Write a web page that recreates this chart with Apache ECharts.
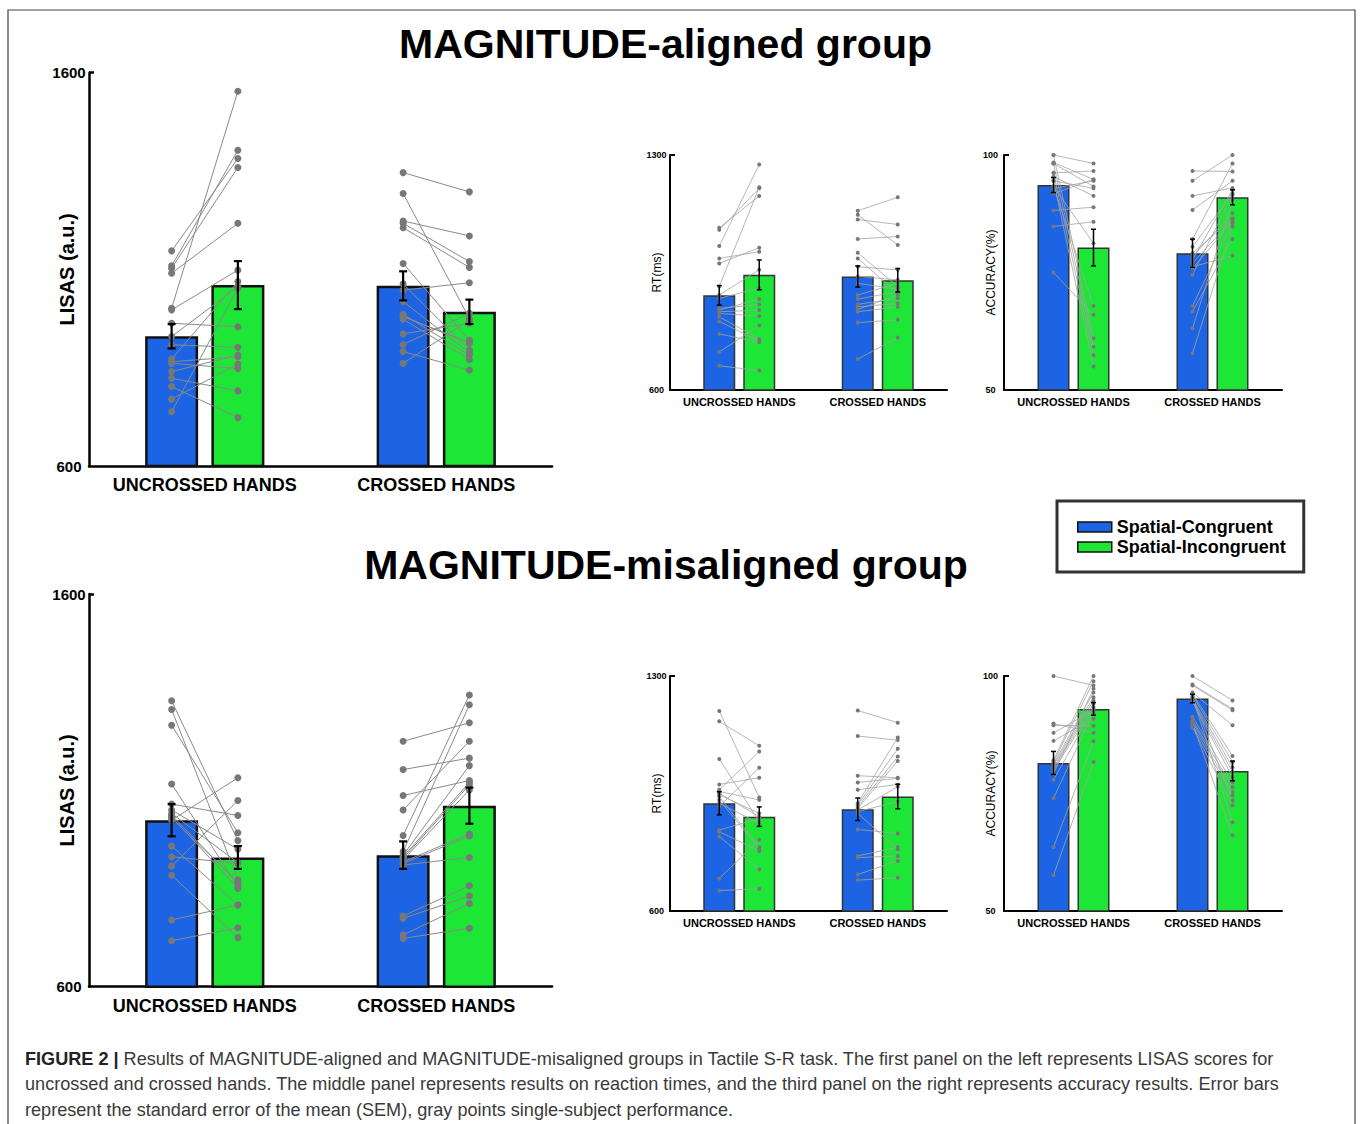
<!DOCTYPE html>
<html>
<head>
<meta charset="utf-8">
<title>Figure 2</title>
<script src="https://cdn.jsdelivr.net/npm/echarts@6.0.0/dist/echarts.min.js"></script>
<style>
  html, body { margin: 0; padding: 0; background: #fff; }
  #chart { width: 1360px; height: 1124px; }
</style>
</head>
<body>
<div id="chart"></div>
<script>
// categories / legend names
var categories = ["UNCROSSED HANDS", "CROSSED HANDS"];
var seriesNames = ["Spatial-Congruent", "Spatial-Incongruent"];

// y axis end ticks
var lisasTicks = [600, 1600];
var rtTicks = [600, 1300];
var accTicks = [50, 100];

// means [congruent, incongruent] x [uncrossed, crossed]
var lisasAlignedMean = [[930, 1058], [1060, 992]];
var lisasAlignedSem = [[31, 37], [61, 31]];
var rtAlignedMean = [[882, 938], [943, 927]];
var rtAlignedSem = [[29, 31.5], [44.5, 35]];
var accAlignedMean = [[93.6, 79.1], [80.3, 91.0]];
var accAlignedSem = [[1.6, 3.0], [3.9, 1.6]];

var lisasMisMean = [[1024, 935], [929, 1061]];
var lisasMisSem = [[41, 35], [29, 46]];
var rtMisMean = [[921, 903], [881, 941]];
var rtMisSem = [[34.5, 33.5], [29, 36.5]];
var accMisMean = [[81.5, 95.2], [93.0, 79.8]];
var accMisSem = [[2.45, 0.9], [1.35, 2.1]];

// single subjects: [congruent, incongruent]
var lisasAlignedUncrossed = [[1147, 1382], [1109, 1403], [1103, 1359], [1090, 1217], [1001, 1553], [997, 1098], [963, 954], [929, 1056], [908, 902], [872, 1069], [865, 878], [861, 848], [840, 882], [823, 791], [802, 723], [770, 859], [738, 1052]];
var lisasAlignedCrossed = [[1346, 1297], [1293, 975], [1223, 1185], [1217, 1120], [1206, 1105], [1115, 920], [1063, 895], [1047, 1066], [1018, 888], [986, 882], [980, 914], [973, 871], [936, 963], [909, 988], [891, 844], [861, 971], [980, 912]];
var rtAlignedUncrossed = [[1083, 1178], [1077, 1201], [1029, 1272], [992, 1012], [977, 1024], [908, 1204], [883, 958], [873, 903], [843, 855], [838, 871], [833, 838], [828, 820], [818, 752], [804, 746], [767, 742], [713, 792], [672, 658]];
var rtAlignedCrossed = [[1134, 1174], [1122, 1032], [1108, 1093], [1050, 1057], [1009, 908], [992, 888], [967, 958], [938, 928], [918, 900], [883, 918], [871, 893], [855, 873], [848, 858], [840, 883], [833, 848], [801, 809], [692, 756]];
var accAlignedUncrossed = [[100, 98.2], [100, 61.0], [98.4, 94.8], [98.2, 93.3], [98.2, 59.2], [96.2, 96.6], [96.2, 57.4], [95.4, 91.3], [94.5, 55.0], [94.5, 92.9], [93.3, 67.9], [93.3, 81.2], [92.9, 94.5], [91.8, 94.8], [88.2, 88.9], [84.8, 85.8], [75.0, 66.0]];
var accAlignedCrossed = [[96.6, 96.5], [94.5, 100], [91.3, 93.0], [88.3, 94.5], [82.1, 98.2], [80.5, 91.8], [79.1, 86.5], [78.4, 87.6], [77.7, 92.6], [77.0, 86.2], [76.2, 78.6], [75.9, 85.8], [74.5, 91.5], [67.9, 85.5], [66.7, 82.1], [63.1, 90.4], [57.8, 84.8]];

var lisasMisUncrossed = [[1328, 972], [1306, 872], [1266, 992], [1116, 855], [1065, 1036], [1050, 950], [1041, 916], [1037, 863], [1033, 850], [1029, 867], [1024, 1132], [958, 808], [931, 914], [907, 1074], [884, 725], [770, 808], [717, 750]];
var lisasMisCrossed = [[1225, 1272], [1153, 1182], [1087, 1125], [1050, 1225], [985, 1343], [944, 1318], [935, 1163], [931, 1120], [927, 1114], [923, 1101], [918, 989], [914, 984], [910, 929], [780, 857], [774, 831], [732, 812], [723, 749]];
var rtMisUncrossed = [[1196, 938], [1165, 1092], [1053, 866], [977, 997], [961, 1075], [956, 931], [951, 881], [946, 891], [941, 790], [931, 785], [921, 861], [911, 1027], [841, 876], [836, 779], [822, 724], [697, 812], [661, 666]];
var rtMisCrossed = [[1197, 1161], [1121, 1109], [1003, 997], [983, 995], [961, 977], [921, 1117], [916, 1083], [911, 1060], [906, 1047], [901, 970], [896, 926], [891, 784], [843, 831], [764, 790], [759, 764], [709, 749], [692, 699]];
var accMisUncrossed = [[100, 98.0], [89.9, 87.9], [89.5, 89.4], [87.9, 92.7], [86.2, 90.9], [82.1, 100], [81.7, 98.9], [81.3, 96.5], [81.0, 95.5], [80.6, 94.8], [80.3, 94.1], [79.9, 93.4], [79.2, 97.3], [77.9, 93.0], [74.0, 92.3], [63.6, 86.1], [57.6, 81.7]];
var accMisCrossed = [[100, 94.8], [98.2, 93.0], [98.0, 92.7], [96.5, 89.5], [96.2, 83.0], [95.9, 81.7], [95.5, 73.5], [95.2, 80.6], [94.8, 79.6], [94.5, 78.5], [91.3, 77.4], [90.6, 76.4], [90.2, 75.3], [89.9, 66.1], [89.5, 74.6], [89.1, 72.5], [95.5, 68.9]];

var FONT = '"Liberation Sans", Arial, Helvetica, sans-serif';
var BLUE = "#1c64e4";
var GREEN = "#1de636";

var bigStyle = {
  barWidth: 53, barBorder: 2.5, barBorderColor: "#111", axisWidth: 2.5,
  tickFont: 15, tickMargin: 20, catFont: 18, catMargin: 10,
  nameFont: 20, nameWeight: "bold", nameGap: 12,
  dot: 3.5, line: 1, lineColor: "#8a8a8a", err: 2.2, cap: 4
};
var smallStyle = {
  barWidth: 32, barBorder: 1.5, barBorderColor: "#333", axisWidth: 2,
  tickFont: 9, tickMargin: 13.5, catFont: 11, catMargin: 6,
  nameFont: 12, nameWeight: "normal", nameGap: 7,
  dot: 2, line: 0.8, lineColor: "#a3a3a3", err: 1.5, cap: 2.5
};

var panels = [
  { mean: lisasAlignedMean, sem: lisasAlignedSem, subj: [lisasAlignedUncrossed, lisasAlignedCrossed], ticks: lisasTicks, name: "LISAS (a.u.)", st: bigStyle, grid: { left: 89, top: 72.7, width: 463, height: 393.3 } },
  { mean: rtAlignedMean, sem: rtAlignedSem, subj: [rtAlignedUncrossed, rtAlignedCrossed], ticks: rtTicks, name: "RT(ms)", st: smallStyle, grid: { left: 670, top: 155, width: 277, height: 235 } },
  { mean: accAlignedMean, sem: accAlignedSem, subj: [accAlignedUncrossed, accAlignedCrossed], ticks: accTicks, name: "ACCURACY(%)", st: smallStyle, grid: { left: 1004, top: 155, width: 278, height: 235 } },
  { mean: lisasMisMean, sem: lisasMisSem, subj: [lisasMisUncrossed, lisasMisCrossed], ticks: lisasTicks, name: "LISAS (a.u.)", st: bigStyle, grid: { left: 89, top: 594, width: 463, height: 392.7 } },
  { mean: rtMisMean, sem: rtMisSem, subj: [rtMisUncrossed, rtMisCrossed], ticks: rtTicks, name: "RT(ms)", st: smallStyle, grid: { left: 670, top: 676, width: 277, height: 235 } },
  { mean: accMisMean, sem: accMisSem, subj: [accMisUncrossed, accMisCrossed], ticks: accTicks, name: "ACCURACY(%)", st: smallStyle, grid: { left: 1004, top: 676, width: 278, height: 235 } }
];

// error bars: data item = [category index, mean, sem]
function errorBarItem(offset, st) {
  return function (params, api) {
    var c = api.value(0);
    var m = api.value(1);
    var s = api.value(2);
    var hi = api.coord([c, m + s]);
    var lo = api.coord([c, m - s]);
    var x = hi[0] + offset;
    var ls = { stroke: "#000", lineWidth: st.err };
    return {
      type: "group",
      children: [
        { type: "line", shape: { x1: x, y1: hi[1], x2: x, y2: lo[1] }, style: ls },
        { type: "line", shape: { x1: x - st.cap, y1: hi[1], x2: x + st.cap, y2: hi[1] }, style: ls },
        { type: "line", shape: { x1: x - st.cap, y1: lo[1], x2: x + st.cap, y2: lo[1] }, style: ls }
      ]
    };
  };
}

// single-subject points: data item = [category index, congruent, incongruent]
function subjectItem(offset, st) {
  return function (params, api) {
    var c = api.value(0);
    var a = api.coord([c, api.value(1)]);
    var b = api.coord([c, api.value(2)]);
    var x1 = a[0] - offset;
    var x2 = b[0] + offset;
    return {
      type: "group",
      children: [
        { type: "line", shape: { x1: x1, y1: a[1], x2: x2, y2: b[1] }, style: { stroke: st.lineColor, lineWidth: st.line } },
        { type: "circle", shape: { cx: x1, cy: a[1], r: st.dot }, style: { fill: "#777" } },
        { type: "circle", shape: { cx: x2, cy: b[1], r: st.dot }, style: { fill: "#777" } }
      ]
    };
  };
}

var grids = [];
var xAxes = [];
var yAxes = [];
var series = [];

panels.forEach(function (p, i) {
  var st = p.st;
  var offset = (st.barWidth * 1.25) / 2;
  grids.push(p.grid);
  xAxes.push({
    type: "category",
    gridIndex: i,
    data: categories,
    axisLine: { onZero: false, lineStyle: { color: "#000", width: st.axisWidth } },
    axisTick: { show: false },
    axisLabel: { interval: 0, hideOverlap: false, color: "#000", fontFamily: FONT, fontWeight: "bold", fontSize: st.catFont, margin: st.catMargin }
  });
  yAxes.push({
    type: "value",
    gridIndex: i,
    min: p.ticks[0],
    max: p.ticks[1],
    name: p.name,
    nameLocation: "middle",
    nameGap: st.nameGap,
    nameMoveOverlap: false,
    nameTextStyle: { color: "#000", fontFamily: FONT, fontWeight: st.nameWeight, fontSize: st.nameFont },
    splitLine: { show: false },
    axisLine: { show: true, onZero: false, lineStyle: { color: "#000", width: st.axisWidth } },
    axisTick: { show: true, inside: true, length: 5, customValues: [p.ticks[1]], lineStyle: { color: "#000", width: st.axisWidth } },
    axisLabel: {
      customValues: p.ticks,
      formatter: function (v) { return String(v); },
      color: "#000", fontFamily: FONT, fontWeight: "bold", fontSize: st.tickFont, align: "center", margin: st.tickMargin
    }
  });
  [0, 1].forEach(function (k) {
    series.push({
      name: seriesNames[k],
      type: "bar",
      xAxisIndex: i,
      yAxisIndex: i,
      barWidth: st.barWidth,
      barGap: "25%",
      z: 2,
      itemStyle: { color: k === 0 ? BLUE : GREEN, borderColor: st.barBorderColor, borderWidth: st.barBorder },
      data: p.mean[k]
    });
  });
  var subjData = [];
  p.subj.forEach(function (list, c) {
    list.forEach(function (d) { subjData.push([c, d[0], d[1]]); });
  });
  series.push({
    name: "subjects",
    type: "custom",
    xAxisIndex: i,
    yAxisIndex: i,
    z: 3,
    silent: true,
    renderItem: subjectItem(offset, st),
    encode: { x: 0, y: [1, 2] },
    data: subjData
  });
  [0, 1].forEach(function (k) {
    series.push({
      name: "sem",
      type: "custom",
      xAxisIndex: i,
      yAxisIndex: i,
      z: 4,
      silent: true,
      renderItem: errorBarItem(k === 0 ? -offset : offset, st),
      encode: { x: 0, y: 1 },
      data: [0, 1].map(function (c) { return [c, p.mean[k][c], p.sem[k][c]]; })
    });
  });
});

var myChart = echarts.init(document.getElementById("chart"), null, { renderer: "svg" });
var option = {
  backgroundColor: "#fff",
  animation: false,
  grid: grids,
  xAxis: xAxes,
  yAxis: yAxes,
  legend: {
    data: seriesNames,
    orient: "vertical",
    left: 1057,
    top: 501,
    padding: [17, 18, 16, 20],
    borderColor: "#333",
    borderWidth: 3,
    itemWidth: 34,
    itemHeight: 10,
    itemGap: 2,
    icon: "rect",
    itemStyle: { borderColor: "#111", borderWidth: 1.5 },
    textStyle: { color: "#000", fontFamily: FONT, fontWeight: "bold", fontSize: 18 }
  },
  graphic: [
    {
      type: "rect",
      shape: { x: 8, y: 10, width: 1347, height: 1130 },
      style: { fill: "none", stroke: "#444", lineWidth: 1.2 },
      silent: true
    },
    {
      type: "text",
      x: 665.5,
      y: 44,
      style: { text: "MAGNITUDE-aligned group", font: "bold 41px " + FONT, fill: "#000", align: "center", verticalAlign: "middle" }
    },
    {
      type: "text",
      x: 666,
      y: 565,
      style: { text: "MAGNITUDE-misaligned group", font: "bold 41px " + FONT, fill: "#000", align: "center", verticalAlign: "middle" }
    },
    {
      type: "text",
      x: 25,
      y: 1046,
      style: {
        text: "{b|FIGURE 2 |} Results of MAGNITUDE-aligned and MAGNITUDE-misaligned groups in Tactile S-R task. The first panel on the left represents LISAS scores for\n" +
          "uncrossed and crossed hands. The middle panel represents results on reaction times, and the third panel on the right represents accuracy results. Error bars\n" +
          "represent the standard error of the mean (SEM), gray points single-subject performance.",
        font: "18.1px " + FONT,
        fill: "#3a3a3a",
        lineHeight: 25.5,
        rich: { b: { fontWeight: "bold", fill: "#222", fontSize: 18.1, fontFamily: FONT, lineHeight: 25.5 } }
      }
    }
  ],
  series: series
};
myChart.setOption(option);
</script>
</body>
</html>
